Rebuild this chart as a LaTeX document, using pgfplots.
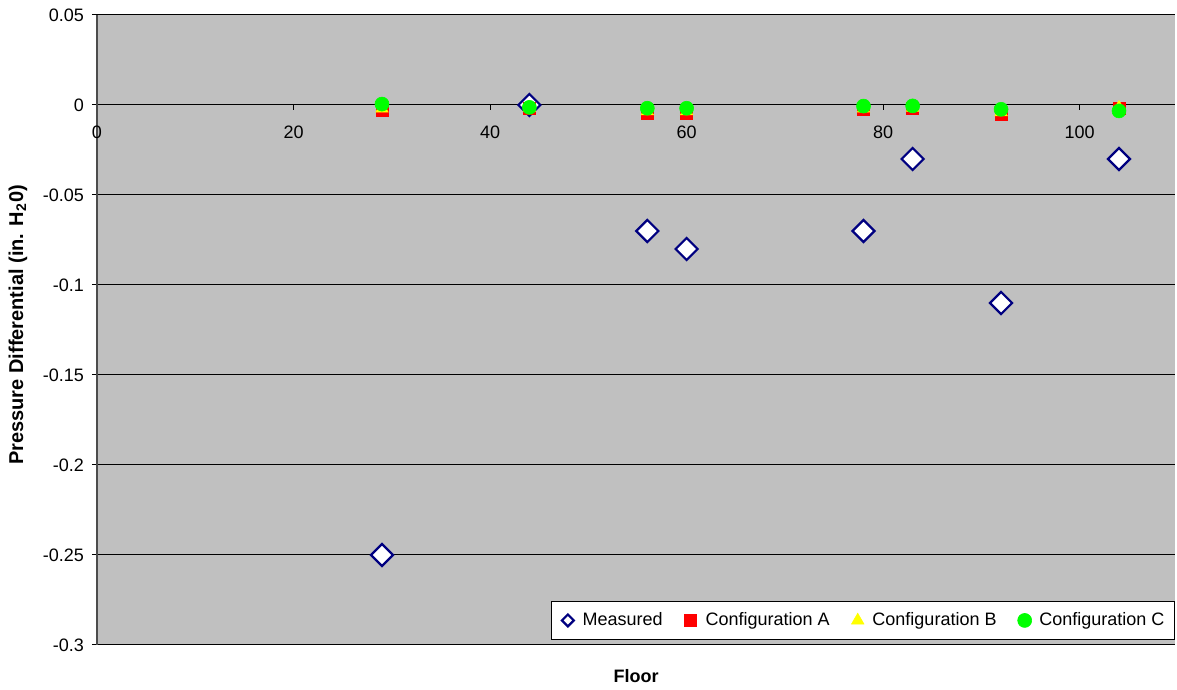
\documentclass[border=0pt]{standalone}
\usepackage{fontspec}
\setmainfont{Liberation Sans}
\usepackage{pgfplots}
\pgfplotsset{compat=1.18}
\definecolor{bgray}{HTML}{C0C0C0}
\definecolor{navyb}{HTML}{000080}
\definecolor{myred}{HTML}{FF0000}
\definecolor{myyellow}{HTML}{FFFF00}
\definecolor{mygreen}{HTML}{00FF00}
\begin{document}
\begin{tikzpicture}
\useasboundingbox (-48.5pt,-22.5pt) rectangle (540pt,322.5pt);
\begin{axis}[
  at={(0,0)}, anchor=south west,
  scale only axis, width=539pt, height=315pt,
  xmin=0, xmax=109.7, ymin=-0.3, ymax=0.05,
  axis x line*=middle, axis y line*=left,
  hide obscured x ticks=false,
  axis background/.style={fill=bgray},
  y axis line style={draw=gray!60!black, line width=1pt},
  x axis line style={draw=black, line width=0.5pt},
  xtick={0,20,40,60,80,100},
  ytick={-0.3,-0.25,-0.2,-0.15,-0.1,-0.05,0,0.05},
  yticklabels={-0.3,-0.25,-0.2,-0.15,-0.1,-0.05,0,0.05},
  tick align=outside,
  major tick length=2.5pt,
  tick style={black, line width=0.5pt},
  ymajorgrids, grid style={black, line width=0.5pt},
  ticklabel style={font=\fontsize{9pt}{11pt}\selectfont},
  /pgf/number format/assume math mode=true,
  xticklabel style={anchor=north, yshift=-4.5pt},
  yticklabel style={anchor=east, xshift=-0.5pt},
  xlabel={\textbf{Floor}},
  xlabel style={at={(axis description cs:0.5,0)}, anchor=center, yshift=-15.5pt, font=\fontsize{9pt}{11pt}\selectfont},
  ylabel={\textbf{Pressure Differential (in. H\textsubscript{2}0)}},
  ylabel style={at={(axis description cs:-0.0733,0.508)}, anchor=center, font=\fontsize{10pt}{12pt}\selectfont},
  clip=false,
  legend columns=4,
  legend style={at={(axis description cs:1,0.008)}, anchor=south east,
    fill=white, draw=black, line width=0.5pt,
    font=\fontsize{9pt}{11pt}\selectfont,
    /tikz/every even column/.append style={column sep=6.7pt},
    inner xsep=3pt, inner ysep=3.5pt},
  legend image code/.code={\path (0cm,0cm) (0.36cm,0cm); \draw[#1] plot coordinates {(0.18cm,0cm)};},
]
\addplot[only marks, mark=square*, mark size=3.9pt, mark options={rotate=45, fill=white, draw=navyb, line width=1.1pt},
  legend image code/.code={\path (0cm,0cm) (0.36cm,0cm); \draw[##1, mark size=2.1pt] plot coordinates {(0.18cm,0cm)};}]
 coordinates {(29,-0.25) (44,0) (56,-0.07) (60,-0.08) (78,-0.07) (83,-0.03) (92,-0.11) (104,-0.03)};
\addlegendentry{Measured}
\addplot[only marks, mark=square*, mark size=3pt, mark options={fill=myred, draw=myred, line width=0.3pt}]
 coordinates {(29,-0.003) (44,-0.002) (56,-0.0045) (60,-0.0045) (78,-0.0025) (83,-0.002) (92,-0.005) (104,-0.002)};
\addlegendentry{Configuration A}
\addplot[only marks, mark=triangle*, mark size=3.6pt, mark options={fill=myyellow, draw=myyellow, line width=0.3pt}]
 coordinates {(29,-0.002) (44,-0.0015) (56,-0.0035) (60,-0.0035) (78,-0.002) (83,-0.0015) (92,-0.004) (104,-0.0015)};
\addlegendentry{Configuration B}
\addplot[only marks, mark=*, mark size=3.5pt, mark options={fill=mygreen, draw=mygreen, line width=0.3pt}]
 coordinates {(29,0.0005) (44,-0.0013) (56,-0.0018) (60,-0.0018) (78,-0.0006) (83,-0.0005) (92,-0.0024) (104,-0.0033)};
\addlegendentry{Configuration C}
\end{axis}
\end{tikzpicture}
\end{document}
